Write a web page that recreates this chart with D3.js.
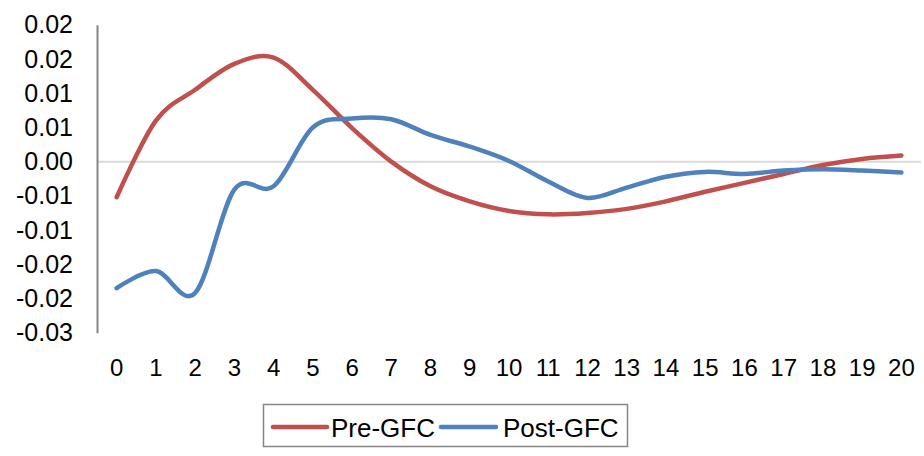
<!DOCTYPE html>
<html>
<head>
<meta charset="utf-8">
<script src="https://cdn.jsdelivr.net/npm/d3@7"></script>
<style>
  html, body { margin: 0; padding: 0; background: #fff; }
  svg { display: block; font-family: "Liberation Sans", Arial, sans-serif; }
</style>
</head>
<body>
<svg id="chart" width="924" height="456"></svg>
<script>
// Horizon (periods) and the two response series
const horizons = [0,1,2,3,4,5,6,7,8,9,10,11,12,13,14,15,16,17,18,19,20];
const preGFC  = [-0.0052, 0.0060, 0.0105, 0.0143, 0.0152, 0.0105, 0.0049, 0.0000, -0.0036, -0.0058,
                 -0.0072, -0.0077, -0.0075, -0.0069, -0.0058, -0.0044, -0.0031, -0.0018, -0.0005, 0.0004, 0.0009];
const postGFC = [-0.0185, -0.0160, -0.0192, -0.0041, -0.0036, 0.0050, 0.0063, 0.0062, 0.0039, 0.0022,
                 0.0001, -0.0029, -0.0053, -0.0038, -0.0022, -0.0015, -0.0018, -0.0013, -0.0011, -0.0013, -0.0016];
const seriesNames = ["Pre-GFC", "Post-GFC"];
const seriesColors = ["#C0504D", "#4F81BD"];

// Value axis ticks and their two-decimal labels
const yTickValues = [-0.025, -0.02, -0.015, -0.01, -0.005, 0, 0.005, 0.01, 0.015, 0.02];
const yTickLabels = ["-0.03", "-0.02", "-0.02", "-0.01", "-0.01", "0.00", "0.01", "0.01", "0.02", "0.02"];

const svg = d3.select("#chart");
const plot = { left: 97, right: 921, top: 24.8, bottom: 332.7 };

const x = d3.scaleBand().domain(horizons).range([plot.left, plot.right]).paddingInner(0).paddingOuter(0);
const xc = d => x(d) + x.bandwidth() / 2;
const y = d3.scaleLinear().domain([-0.025, 0.02]).range([plot.bottom, plot.top]);

// zero (category) axis line
svg.append("line")
  .attr("x1", plot.left).attr("x2", plot.right)
  .attr("y1", y(0)).attr("y2", y(0))
  .attr("stroke", "#D9D9D9").attr("stroke-width", 2);

// value axis
const yAxis = svg.append("g")
  .attr("transform", `translate(${plot.left},0)`)
  .call(d3.axisLeft(y)
    .tickValues(yTickValues)
    .tickFormat((d, i) => yTickLabels[i])
    .tickSize(0)
    .tickSizeOuter(0)
    .tickPadding(24));
yAxis.select(".domain").attr("stroke", "#868686").attr("stroke-width", 2);
yAxis.selectAll("text").attr("font-size", 25).attr("fill", "#000")
  .style("font-family", "'Liberation Sans', Arial, sans-serif");

// category labels along the bottom
const xAxis = svg.append("g")
  .attr("transform", `translate(0,${plot.bottom})`)
  .call(d3.axisBottom(x).tickSize(0).tickPadding(26));
xAxis.select(".domain").remove();
xAxis.selectAll("text").attr("font-size", 24).attr("fill", "#000")
  .style("font-family", "'Liberation Sans', Arial, sans-serif");

// smoothed lines
const line = d3.line()
  .x((d, i) => xc(horizons[i]))
  .y(d => y(d))
  .curve(d3.curveCardinal.tension(0));

[preGFC, postGFC].forEach((vals, k) => {
  svg.append("path")
    .datum(vals)
    .attr("d", line)
    .attr("fill", "none")
    .attr("stroke", seriesColors[k])
    .attr("stroke-width", 4.5)
    .attr("stroke-linecap", "round")
    .attr("stroke-linejoin", "round");
});

// legend
const legend = svg.append("g");
legend.append("rect")
  .attr("x", 263.5).attr("y", 404.5).attr("width", 364).attr("height", 42)
  .attr("fill", "#fff").attr("stroke", "#868686").attr("stroke-width", 1.5);
const legendItems = [
  { x0: 273, x1: 327, tx: 331 },
  { x0: 441, x1: 496, tx: 503 }
];
legendItems.forEach((it, k) => {
  legend.append("line")
    .attr("x1", it.x0).attr("x2", it.x1).attr("y1", 427).attr("y2", 427)
    .attr("stroke", seriesColors[k]).attr("stroke-width", 4.5).attr("stroke-linecap", "round");
  legend.append("text")
    .attr("x", it.tx).attr("y", 436.5)
    .attr("font-size", 26).attr("fill", "#000")
    .text(seriesNames[k]);
});
</script>
</body>
</html>
